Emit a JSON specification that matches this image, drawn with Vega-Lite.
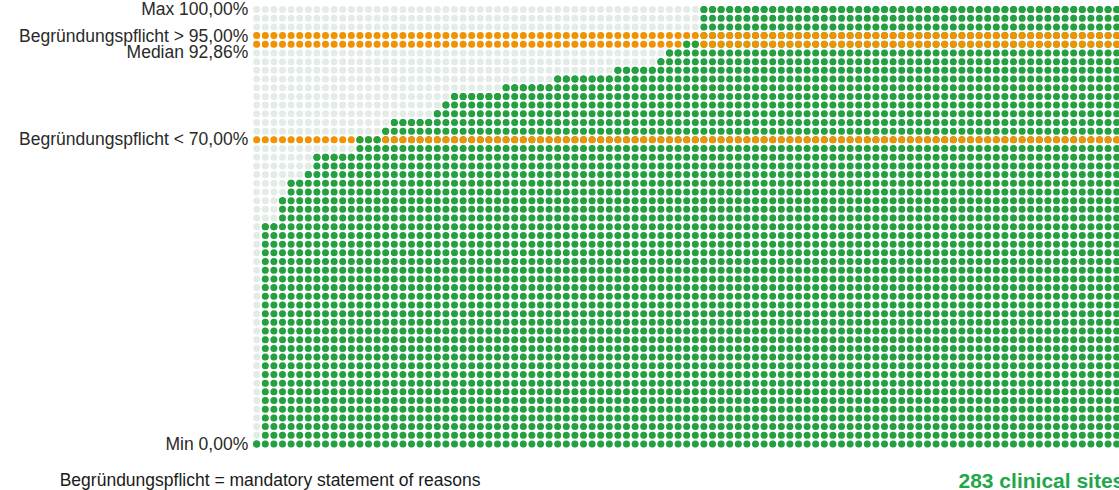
{
  "$schema": "https://vega.github.io/schema/vega-lite/v6.json",
  "width": 860,
  "height": 434.5,
  "autosize": {"type": "none"},
  "padding": {"left": 256.7, "top": 9.5, "right": 2.3, "bottom": 46},
  "background": "white",
  "config": {"view": {"stroke": null}, "font": "Liberation Sans"},
  "datasets": {
    "sites": [
      {"rank": 0, "rate": 0}, {"rank": 1, "rate": 50}, {"rank": 2, "rate": 50}, {"rank": 3, "rate": 56},
      {"rank": 4, "rate": 60}, {"rank": 5, "rate": 60}, {"rank": 6, "rate": 62}, {"rank": 7, "rate": 66},
      {"rank": 8, "rate": 66}, {"rank": 9, "rate": 66}, {"rank": 10, "rate": 66}, {"rank": 11, "rate": 66},
      {"rank": 12, "rate": 70}, {"rank": 13, "rate": 70}, {"rank": 14, "rate": 70}, {"rank": 15, "rate": 72},
      {"rank": 16, "rate": 74}, {"rank": 17, "rate": 74}, {"rank": 18, "rate": 74}, {"rank": 19, "rate": 74},
      {"rank": 20, "rate": 74}, {"rank": 21, "rate": 76}, {"rank": 22, "rate": 78}, {"rank": 23, "rate": 80},
      {"rank": 24, "rate": 80}, {"rank": 25, "rate": 80}, {"rank": 26, "rate": 80}, {"rank": 27, "rate": 80},
      {"rank": 28, "rate": 80}, {"rank": 29, "rate": 82}, {"rank": 30, "rate": 82}, {"rank": 31, "rate": 82},
      {"rank": 32, "rate": 82}, {"rank": 33, "rate": 82}, {"rank": 34, "rate": 82}, {"rank": 35, "rate": 84},
      {"rank": 36, "rate": 84}, {"rank": 37, "rate": 84}, {"rank": 38, "rate": 84}, {"rank": 39, "rate": 84},
      {"rank": 40, "rate": 84}, {"rank": 41, "rate": 84}, {"rank": 42, "rate": 86}, {"rank": 43, "rate": 86},
      {"rank": 44, "rate": 86}, {"rank": 45, "rate": 86}, {"rank": 46, "rate": 86}, {"rank": 47, "rate": 88},
      {"rank": 48, "rate": 90}, {"rank": 49, "rate": 90}, {"rank": 50, "rate": 92}, {"rank": 51, "rate": 92},
      {"rank": 52, "rate": 100}, {"rank": 53, "rate": 100}, {"rank": 54, "rate": 100}, {"rank": 55, "rate": 100},
      {"rank": 56, "rate": 100}, {"rank": 57, "rate": 100}, {"rank": 58, "rate": 100}, {"rank": 59, "rate": 100},
      {"rank": 60, "rate": 100}, {"rank": 61, "rate": 100}, {"rank": 62, "rate": 100}, {"rank": 63, "rate": 100},
      {"rank": 64, "rate": 100}, {"rank": 65, "rate": 100}, {"rank": 66, "rate": 100}, {"rank": 67, "rate": 100},
      {"rank": 68, "rate": 100}, {"rank": 69, "rate": 100}, {"rank": 70, "rate": 100}, {"rank": 71, "rate": 100},
      {"rank": 72, "rate": 100}, {"rank": 73, "rate": 100}, {"rank": 74, "rate": 100}, {"rank": 75, "rate": 100},
      {"rank": 76, "rate": 100}, {"rank": 77, "rate": 100}, {"rank": 78, "rate": 100}, {"rank": 79, "rate": 100},
      {"rank": 80, "rate": 100}, {"rank": 81, "rate": 100}, {"rank": 82, "rate": 100}, {"rank": 83, "rate": 100},
      {"rank": 84, "rate": 100}, {"rank": 85, "rate": 100}, {"rank": 86, "rate": 100}, {"rank": 87, "rate": 100},
      {"rank": 88, "rate": 100}, {"rank": 89, "rate": 100}, {"rank": 90, "rate": 100}, {"rank": 91, "rate": 100},
      {"rank": 92, "rate": 100}, {"rank": 93, "rate": 100}, {"rank": 94, "rate": 100}, {"rank": 95, "rate": 100},
      {"rank": 96, "rate": 100}, {"rank": 97, "rate": 100}, {"rank": 98, "rate": 100}, {"rank": 99, "rate": 100},
      {"rank": 100, "rate": 100}
    ],
    "thresholds": [{"level": 94}, {"level": 92}, {"level": 70}]
  },
  "layer": [
    {
      "data": {"name": "sites"},
      "mark": {"type": "rule", "color": "#e3ece6", "strokeWidth": 7, "strokeCap": "round", "strokeDash": [0, 8.6899]},
      "encoding": {
        "x": {"field": "rank", "type": "quantitative", "scale": {"domain": [0, 100], "nice": false, "zero": false},
          "axis": {"orient": "bottom", "domain": false, "ticks": false, "labels": false, "grid": false,
            "title": "283 clinical sites", "titleX": 701.3, "titleY": 43, "titleAlign": "left", "titleAnchor": null,
            "titleBaseline": "alphabetic", "titleFontSize": 21, "titleFontWeight": "bold", "titleColor": "#1fa74a", "titleFont": "Liberation Sans", "titleLimit": 0}},
        "y": {"datum": 100, "type": "quantitative", "scale": {"domain": [0, 100], "nice": false, "zero": false},
          "axis": {"orient": "left", "domain": false, "ticks": false, "tickSize": 0, "grid": false,
            "values": [0, 70, 90.1, 93.7, 100], "labelOverlap": false, "labelFlush": false, "labelBound": false, "labelLimit": 0,
            "labelPadding": 9, "labelFontSize": 17.5, "labelColor": "#2a2a2a", "labelFont": "Liberation Sans",
            "labelExpr": "datum.value == 100 ? 'Max 100,00%' : datum.value > 93 ? 'Begründungspflicht > 95,00%' : datum.value > 90 ? 'Median 92,86%' : datum.value == 70 ? 'Begründungspflicht < 70,00%' : 'Min 0,00%'",
            "title": "Begründungspflicht = mandatory statement of reasons", "titleAngle": 0, "titleX": -197.5, "titleY": 476,
            "titleAlign": "left", "titleAnchor": null, "titleBaseline": "alphabetic", "titleFontSize": 17.5, "titleFontWeight": "normal",
            "titleColor": "#1a1a1a", "titleFont": "Liberation Sans", "titleLimit": 0}},
        "y2": {"datum": 0}
      }
    },
    {
      "data": {"name": "sites"},
      "mark": {"type": "rule", "color": "#23a03f", "strokeWidth": 7, "strokeCap": "round", "strokeDash": [0, 8.6899]},
      "encoding": {
        "x": {"field": "rank", "type": "quantitative"},
        "y": {"field": "rate", "type": "quantitative"},
        "y2": {"datum": 0}
      }
    },
    {
      "data": {"name": "thresholds"},
      "mark": {"type": "rule", "color": "#f39200", "strokeWidth": 7, "strokeCap": "round", "strokeDash": [0, 8.5999]},
      "encoding": {
        "x": {"datum": 0, "type": "quantitative"},
        "x2": {"datum": 100},
        "y": {"field": "level", "type": "quantitative"}
      }
    },
    {
      "data": {"name": "sites"},
      "mark": {"type": "circle", "color": "#23a03f", "size": 49, "opacity": 1},
      "encoding": {
        "x": {"field": "rank", "type": "quantitative"},
        "y": {"field": "rate", "type": "quantitative"}
      }
    }
  ]
}
